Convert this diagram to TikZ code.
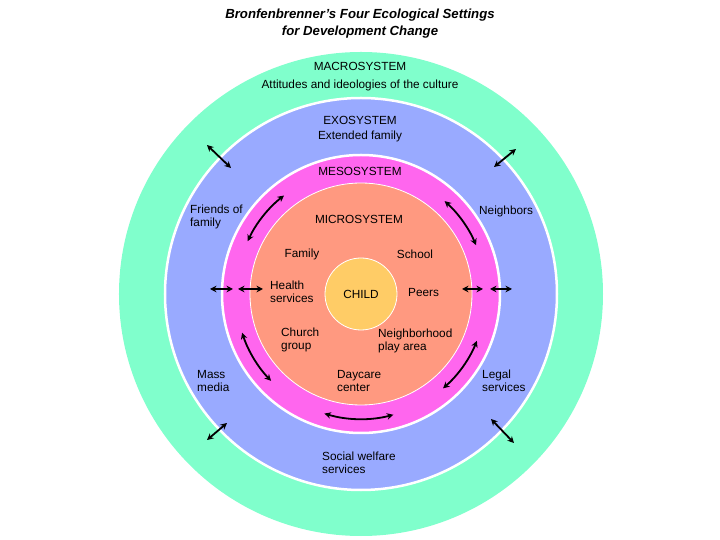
\documentclass[tikz,border=0pt]{standalone}
\usepackage{fontspec}
\setmainfont{Liberation Sans}
\usetikzlibrary{arrows.meta}
\definecolor{macrocol}{RGB}{128,255,204}
\definecolor{exocol}{RGB}{153,170,255}
\definecolor{mesocol}{RGB}{255,102,238}
\definecolor{microcol}{RGB}{255,153,128}
\definecolor{childcol}{RGB}{255,204,102}

\begin{document}
\begin{tikzpicture}[x=1pt, y=1pt, every node/.style={font=\fontsize{11.8}{12.5}\selectfont, inner sep=0pt}, lbl/.style={align=left, anchor=west}, ring/.style={draw=white, line width=2.5pt}, dbl/.style={{Stealth[length=6.5pt,width=6.5pt]}-{Stealth[length=6.5pt,width=6.5pt]}, line width=1.8pt}]
\useasboundingbox (-361,-246) rectangle (359,294);
\coordinate (c) at (0,0);
\fill[macrocol] (c) circle (242);
\filldraw[fill=exocol, ring] (c) circle (196);
\filldraw[fill=mesocol, ring] (c) circle (139);
\filldraw[fill=microcol, draw=white, line width=0.8pt] (c) circle (111);
\node[circle, fill=childcol, draw=white, line width=0.8pt, minimum size=72pt] (child) at (c) {CHILD};
\node[font=\fontsize{13.2}{17}\selectfont\bfseries\itshape, align=center] (title) at (-1,270) {Bronfenbrenner's Four Ecological Settings\\for Development Change};
\node (macro) at (-1,228) {MACROSYSTEM};
\node (culture) at (-1,209) {Attitudes and ideologies of the culture};
\node (exo) at (-1,174) {EXOSYSTEM};
\node (extended) at (-1,158) {Extended family};
\node (meso) at (-1,123) {MESOSYSTEM};
\node (micro) at (-2,75) {MICROSYSTEM};
\node (family) at (-59,40) {Family};
\node (school) at (54,40) {School};
\node[lbl] (health) at (-91,2) {Health\\services};
\node[lbl] (peers) at (47,1) {Peers};
\node[lbl] (church) at (-80,-46) {Church\\group};
\node[lbl] (play) at (17,-47) {Neighborhood\\play area};
\node[lbl] (daycare) at (-24,-87) {Daycare\\center};
\node[lbl] (friends) at (-171,77) {Friends of\\family};
\node[lbl] (neighbors) at (118,83) {Neighbors};
\node[lbl] (media) at (-164,-87) {Mass\\media};
\node[lbl] (legal) at (121,-87) {Legal\\services};
\node[lbl] (welfare) at (-39,-169) {Social welfare\\services};
\coordinate (ulo) at (-154,149); \coordinate (uli) at (-130,126);
\coordinate (uri) at (133,127); \coordinate (uro) at (155,145);
\coordinate (lo1) at (-151,5); \coordinate (lo2) at (-128,5); \coordinate (li1) at (-123,5); \coordinate (li2) at (-98,5);
\coordinate (ri1) at (101,5); \coordinate (ri2) at (122,5); \coordinate (ro1) at (129,5); \coordinate (ro2) at (151,5);
\coordinate (blo) at (-154,-146); \coordinate (bli) at (-134,-129);
\coordinate (bri) at (130,-125); \coordinate (bro) at (153,-149);
\draw[dbl] (ulo)--(uli);\draw[dbl] (uri)--(uro);\draw[dbl] (lo1)--(lo2);\draw[dbl] (li1)--(li2);\draw[dbl] (ri1)--(ri2);\draw[dbl] (ro1)--(ro2);\draw[dbl] (blo)--(bli);\draw[dbl] (bri)--(bro);
\coordinate (mul) at (128:125); \coordinate (mur) at (48:125); \coordinate (mll) at (198:125); \coordinate (mlr) at (-22:125); \coordinate (mb) at (253:125);
\draw[dbl] (mul) arc[start angle=128, end angle=155, radius=125];
\draw[dbl] (mur) arc[start angle=48, end angle=23, radius=125];
\draw[dbl] (mll) arc[start angle=198, end angle=224, radius=125];
\draw[dbl] (mlr) arc[start angle=-22, end angle=-49, radius=125];
\draw[dbl] (mb) arc[start angle=253, end angle=285, radius=125];
\end{tikzpicture}
\end{document}
